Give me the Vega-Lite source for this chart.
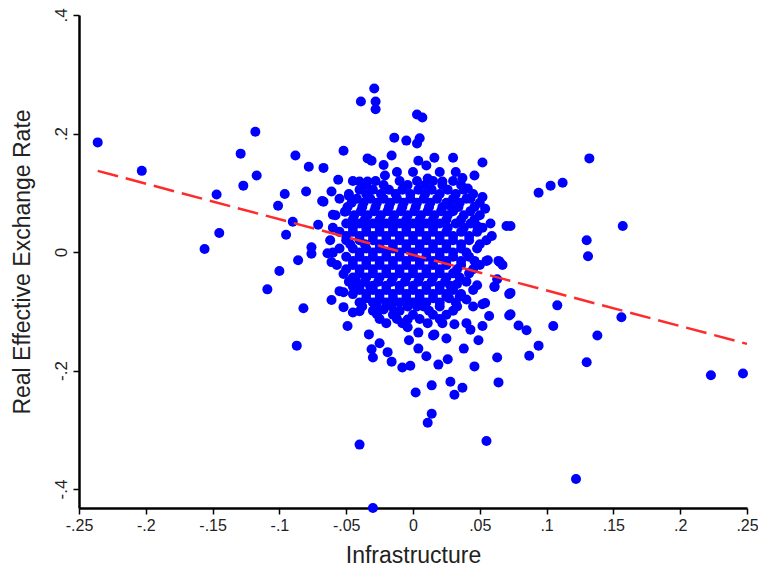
{
  "$schema": "https://vega.github.io/schema/vega-lite/v6.json",
  "width": 668,
  "height": 493,
  "autosize": {"type": "none"},
  "padding": {"left": 79, "top": 15, "right": 11, "bottom": 65},
  "background": "white",
  "config": {"view": {"stroke": null}, "font": "Liberation Sans"},
  "datasets": {
    "pts": [
      {"infra":-0.236,"rer":0.185},{"infra":-0.203,"rer":0.137},{"infra":-0.147,"rer":0.097},{"infra":-0.145,"rer":0.032},{"infra":-0.156,"rer":0.005},{"infra":-0.129,"rer":0.166},{"infra":-0.118,"rer":0.203},{"infra":-0.127,"rer":0.112},{"infra":-0.117,"rer":0.129},{"infra":-0.109,"rer":-0.063},{"infra":-0.100,"rer":-0.032},{"infra":-0.088,"rer":0.163},{"infra":-0.078,"rer":0.144},{"infra":-0.067,"rer":0.142},{"infra":-0.096,"rer":0.098},{"infra":-0.101,"rer":0.078},{"infra":-0.080,"rer":0.102},{"infra":-0.068,"rer":0.086},{"infra":-0.090,"rer":0.051},{"infra":-0.095,"rer":0.029},{"infra":-0.071,"rer":0.046},{"infra":-0.076,"rer":0.008},{"infra":-0.076,"rer":-0.003},{"infra":-0.086,"rer":-0.014},{"infra":-0.082,"rer":-0.095},{"infra":-0.087,"rer":-0.158},{"infra":-0.064,"rer":-0.002},{"infra":-0.061,"rer":-0.017},{"infra":-0.061,"rer":-0.081},{"infra":-0.052,"rer":-0.093},{"infra":-0.049,"rer":-0.125},{"infra":-0.055,"rer":-0.066},
      {"infra":-0.029,"rer":0.276},{"infra":-0.039,"rer":0.254},{"infra":-0.028,"rer":0.254},{"infra":-0.028,"rer":0.241},{"infra":0.003,"rer":0.232},{"infra":0.007,"rer":0.227},{"infra":-0.014,"rer":0.193},{"infra":-0.005,"rer":0.188},{"infra":0.005,"rer":0.192},{"infra":0.003,"rer":0.183},{"infra":-0.052,"rer":0.171},{"infra":-0.034,"rer":0.158},{"infra":-0.031,"rer":0.154},{"infra":-0.022,"rer":0.147},{"infra":-0.016,"rer":0.163},{"infra":-0.056,"rer":0.122},{"infra":-0.061,"rer":0.102},{"infra":-0.040,"rer":0.119},{"infra":-0.034,"rer":0.119},{"infra":-0.021,"rer":0.129},{"infra":-0.067,"rer":0.085},{"infra":-0.060,"rer":0.063},{"infra":-0.049,"rer":0.076},{"infra":-0.048,"rer":0.095},{"infra":-0.051,"rer":0.068},{"infra":0.030,"rer":0.159},{"infra":0.052,"rer":0.151},{"infra":0.016,"rer":0.159},{"infra":0.004,"rer":0.154},{"infra":0.010,"rer":0.146},{"infra":0.037,"rer":0.125},{"infra":0.046,"rer":0.129},{"infra":0.022,"rer":0.119},{"infra":0.011,"rer":0.124},{"infra":0.052,"rer":0.093},{"infra":0.054,"rer":0.073},{"infra":0.041,"rer":0.107},{"infra":0.043,"rer":0.090},{"infra":0.028,"rer":0.078},{"infra":0.070,"rer":0.044},{"infra":0.048,"rer":0.044},
      {"infra":0.132,"rer":0.158},{"infra":0.094,"rer":0.100},{"infra":0.103,"rer":0.112},{"infra":0.112,"rer":0.117},{"infra":0.073,"rer":0.044},{"infra":0.157,"rer":0.044},{"infra":0.059,"rer":0.027},{"infra":0.130,"rer":0.020},{"infra":0.131,"rer":-0.007},{"infra":0.055,"rer":-0.015},{"infra":0.064,"rer":-0.015},{"infra":0.067,"rer":-0.022},{"infra":0.063,"rer":-0.046},{"infra":0.061,"rer":-0.059},{"infra":0.073,"rer":-0.069},{"infra":0.108,"rer":-0.090},{"infra":0.054,"rer":-0.086},{"infra":0.057,"rer":-0.108},{"infra":0.073,"rer":-0.105},{"infra":0.052,"rer":-0.125},{"infra":0.079,"rer":-0.124},{"infra":0.085,"rer":-0.132},{"infra":0.105,"rer":-0.125},{"infra":0.156,"rer":-0.110},{"infra":0.138,"rer":-0.141},{"infra":0.094,"rer":-0.158},{"infra":0.087,"rer":-0.175},{"infra":0.063,"rer":-0.178},{"infra":0.130,"rer":-0.186},{"infra":0.064,"rer":-0.220},{"infra":0.223,"rer":-0.208},{"infra":0.247,"rer":-0.205},
      {"infra":-0.040,"rer":-0.325},{"infra":-0.030,"rer":-0.432},{"infra":0.055,"rer":-0.319},{"infra":0.122,"rer":-0.383},{"infra":0.014,"rer":-0.273},{"infra":0.011,"rer":-0.288},{"infra":0.002,"rer":-0.237},{"infra":0.014,"rer":-0.225},{"infra":0.028,"rer":-0.219},{"infra":0.031,"rer":-0.241},{"infra":0.037,"rer":-0.229},{"infra":0.046,"rer":-0.193},{"infra":0.038,"rer":-0.163},{"infra":0.025,"rer":-0.146},{"infra":0.016,"rer":-0.139},{"infra":0.026,"rer":-0.181},{"infra":0.019,"rer":-0.190},{"infra":0.010,"rer":-0.176},{"infra":0.004,"rer":-0.163},{"infra":-0.003,"rer":-0.149},{"infra":-0.008,"rer":-0.195},{"infra":-0.002,"rer":-0.192},{"infra":-0.016,"rer":-0.185},{"infra":-0.019,"rer":-0.169},{"infra":-0.030,"rer":-0.178},{"infra":-0.031,"rer":-0.164},{"infra":-0.025,"rer":-0.154},{"infra":-0.033,"rer":-0.139},{"infra":-0.045,"rer":-0.102},{"infra":-0.040,"rer":-0.100},{"infra":-0.027,"rer":-0.105},{"infra":-0.004,"rer":-0.127},{"infra":-0.004,"rer":-0.114},{"infra":0.004,"rer":-0.136},{"infra":0.011,"rer":-0.120},{"infra":0.015,"rer":-0.141},{"infra":0.031,"rer":-0.122},{"infra":0.043,"rer":-0.131},{"infra":0.049,"rer":-0.149},{"infra":0.072,"rer":-0.107},{"infra":0.072,"rer":-0.071},{"infra":0.061,"rer":-0.058},{"infra":0.048,"rer":-0.056},{"infra":0.033,"rer":-0.054},{"infra":0.025,"rer":-0.075},{"infra":0.035,"rer":-0.075},{"infra":0.040,"rer":-0.080},{"infra":0.052,"rer":-0.088},{"infra":0.065,"rer":-0.017},{"infra":0.056,"rer":-0.014},{"infra":-0.052,"rer":-0.068},{"infra":-0.045,"rer":-0.058},{"infra":-0.043,"rer":-0.046},{"infra":-0.052,"rer":-0.037},{"infra":-0.032,"rer":-0.058},{"infra":-0.022,"rer":-0.097},{"infra":-0.027,"rer":-0.085},{"infra":0.003,"rer":-0.092},
      {"infra":-0.012,"rer":0.135},{"infra":0.0,"rer":0.135},{"infra":0.02,"rer":0.135},{"infra":0.032,"rer":0.135},
      {"infra":-0.045,"rer":0.12},{"infra":-0.028,"rer":0.12},{"infra":-0.01,"rer":0.12},{"infra":0.003,"rer":0.12},{"infra":0.015,"rer":0.12},{"infra":0.03,"rer":0.12},
      {"infra":-0.04,"rer":0.105},{"infra":-0.03,"rer":0.105},{"infra":-0.018,"rer":0.105},{"infra":-0.008,"rer":0.105},{"infra":0.004,"rer":0.105},{"infra":0.014,"rer":0.105},{"infra":0.026,"rer":0.105},{"infra":0.038,"rer":0.105},
      {"infra":-0.055,"rer":0.09},{"infra":-0.042,"rer":0.09},{"infra":-0.032,"rer":0.09},{"infra":-0.022,"rer":0.09},{"infra":-0.012,"rer":0.09},{"infra":-0.002,"rer":0.09},{"infra":0.008,"rer":0.09},{"infra":0.018,"rer":0.09},{"infra":0.03,"rer":0.09},{"infra":0.04,"rer":0.09},
      {"infra":-0.038,"rer":0.076},{"infra":-0.028,"rer":0.076},{"infra":-0.018,"rer":0.076},{"infra":-0.008,"rer":0.076},{"infra":0.002,"rer":0.076},{"infra":0.012,"rer":0.076},{"infra":0.022,"rer":0.076},{"infra":0.034,"rer":0.076},{"infra":0.046,"rer":0.076},
      {"infra":-0.058,"rer":0.062},{"infra":-0.044,"rer":0.062},{"infra":-0.034,"rer":0.062},{"infra":-0.024,"rer":0.062},{"infra":-0.014,"rer":0.062},{"infra":-0.004,"rer":0.062},{"infra":0.006,"rer":0.062},{"infra":0.016,"rer":0.062},{"infra":0.026,"rer":0.062},{"infra":0.038,"rer":0.062},{"infra":0.05,"rer":0.062},
      {"infra":-0.05,"rer":0.048},{"infra":-0.04,"rer":0.048},{"infra":-0.03,"rer":0.048},{"infra":-0.02,"rer":0.048},{"infra":-0.01,"rer":0.048},{"infra":0.0,"rer":0.048},{"infra":0.01,"rer":0.048},{"infra":0.02,"rer":0.048},{"infra":0.032,"rer":0.048},{"infra":0.043,"rer":0.048},{"infra":0.058,"rer":0.048},
      {"infra":-0.055,"rer":0.034},{"infra":-0.045,"rer":0.034},{"infra":-0.035,"rer":0.034},{"infra":-0.025,"rer":0.034},{"infra":-0.015,"rer":0.034},{"infra":-0.005,"rer":0.034},{"infra":0.005,"rer":0.034},{"infra":0.015,"rer":0.034},{"infra":0.025,"rer":0.034},{"infra":0.036,"rer":0.034},{"infra":0.048,"rer":0.034},
      {"infra":-0.062,"rer":0.02},{"infra":-0.05,"rer":0.02},{"infra":-0.04,"rer":0.02},{"infra":-0.03,"rer":0.02},{"infra":-0.02,"rer":0.02},{"infra":-0.01,"rer":0.02},{"infra":0.0,"rer":0.02},{"infra":0.01,"rer":0.02},{"infra":0.02,"rer":0.02},{"infra":0.03,"rer":0.02},{"infra":0.042,"rer":0.02},{"infra":0.055,"rer":0.02},
      {"infra":-0.055,"rer":0.006},{"infra":-0.045,"rer":0.006},{"infra":-0.035,"rer":0.006},{"infra":-0.025,"rer":0.006},{"infra":-0.015,"rer":0.006},{"infra":-0.005,"rer":0.006},{"infra":0.005,"rer":0.006},{"infra":0.015,"rer":0.006},{"infra":0.025,"rer":0.006},{"infra":0.036,"rer":0.006},{"infra":0.048,"rer":0.006},
      {"infra":-0.05,"rer":-0.008},{"infra":-0.04,"rer":-0.008},{"infra":-0.03,"rer":-0.008},{"infra":-0.02,"rer":-0.008},{"infra":-0.01,"rer":-0.008},{"infra":0.0,"rer":-0.008},{"infra":0.01,"rer":-0.008},{"infra":0.02,"rer":-0.008},{"infra":0.03,"rer":-0.008},{"infra":0.042,"rer":-0.008},
      {"infra":-0.057,"rer":-0.022},{"infra":-0.045,"rer":-0.022},{"infra":-0.035,"rer":-0.022},{"infra":-0.025,"rer":-0.022},{"infra":-0.015,"rer":-0.022},{"infra":-0.005,"rer":-0.022},{"infra":0.005,"rer":-0.022},{"infra":0.015,"rer":-0.022},{"infra":0.025,"rer":-0.022},{"infra":0.036,"rer":-0.022},{"infra":0.05,"rer":-0.022},
      {"infra":-0.04,"rer":-0.036},{"infra":-0.03,"rer":-0.036},{"infra":-0.02,"rer":-0.036},{"infra":-0.01,"rer":-0.036},{"infra":0.0,"rer":-0.036},{"infra":0.01,"rer":-0.036},{"infra":0.02,"rer":-0.036},{"infra":0.03,"rer":-0.036},{"infra":0.042,"rer":-0.036},
      {"infra":-0.048,"rer":-0.05},{"infra":-0.036,"rer":-0.05},{"infra":-0.026,"rer":-0.05},{"infra":-0.016,"rer":-0.05},{"infra":-0.006,"rer":-0.05},{"infra":0.004,"rer":-0.05},{"infra":0.014,"rer":-0.05},{"infra":0.024,"rer":-0.05},{"infra":0.04,"rer":-0.05},
      {"infra":-0.04,"rer":-0.064},{"infra":-0.03,"rer":-0.064},{"infra":-0.02,"rer":-0.064},{"infra":-0.01,"rer":-0.064},{"infra":0.0,"rer":-0.064},{"infra":0.01,"rer":-0.064},{"infra":0.02,"rer":-0.064},{"infra":0.03,"rer":-0.064},{"infra":0.045,"rer":-0.064},
      {"infra":-0.035,"rer":-0.078},{"infra":-0.025,"rer":-0.078},{"infra":-0.015,"rer":-0.078},{"infra":-0.005,"rer":-0.078},{"infra":0.005,"rer":-0.078},{"infra":0.015,"rer":-0.078},{"infra":0.027,"rer":-0.078},
      {"infra":-0.038,"rer":-0.092},{"infra":-0.028,"rer":-0.092},{"infra":-0.016,"rer":-0.092},{"infra":-0.004,"rer":-0.092},{"infra":0.008,"rer":-0.092},{"infra":0.02,"rer":-0.092},{"infra":0.033,"rer":-0.092},{"infra":0.045,"rer":-0.092},
      {"infra":-0.015,"rer":-0.106},{"infra":0.0,"rer":-0.106},{"infra":0.015,"rer":-0.106},{"infra":0.025,"rer":-0.106},
      {"infra":-0.02,"rer":-0.12},{"infra":-0.008,"rer":-0.12},{"infra":0.022,"rer":-0.12},{"infra":0.04,"rer":-0.12},
      {"infra":-0.035,"rer":0.113},{"infra":-0.022,"rer":0.113},{"infra":-0.004,"rer":0.113},{"infra":0.009,"rer":0.113},{"infra":0.022,"rer":0.113},{"infra":0.036,"rer":0.113},
      {"infra":-0.048,"rer":0.098},{"infra":-0.035,"rer":0.098},{"infra":-0.024,"rer":0.098},{"infra":-0.013,"rer":0.098},{"infra":-0.002,"rer":0.098},{"infra":0.009,"rer":0.098},{"infra":0.02,"rer":0.098},{"infra":0.032,"rer":0.098},{"infra":0.045,"rer":0.098},
      {"infra":-0.046,"rer":0.083},{"infra":-0.037,"rer":0.083},{"infra":-0.027,"rer":0.083},{"infra":-0.017,"rer":0.083},{"infra":-0.007,"rer":0.083},{"infra":0.003,"rer":0.083},{"infra":0.013,"rer":0.083},{"infra":0.025,"rer":0.083},{"infra":0.035,"rer":0.083},{"infra":0.05,"rer":0.083},
      {"infra":-0.05,"rer":0.069},{"infra":-0.039,"rer":0.069},{"infra":-0.029,"rer":0.069},{"infra":-0.019,"rer":0.069},{"infra":-0.009,"rer":0.069},{"infra":0.001,"rer":0.069},{"infra":0.011,"rer":0.069},{"infra":0.021,"rer":0.069},{"infra":0.03,"rer":0.069},{"infra":0.043,"rer":0.069},
      {"infra":-0.045,"rer":0.055},{"infra":-0.036,"rer":0.055},{"infra":-0.025,"rer":0.055},{"infra":-0.015,"rer":0.055},{"infra":-0.005,"rer":0.055},{"infra":0.005,"rer":0.055},{"infra":0.015,"rer":0.055},{"infra":0.025,"rer":0.055},{"infra":0.036,"rer":0.055},{"infra":0.046,"rer":0.055},
      {"infra":-0.06,"rer":0.041},{"infra":-0.045,"rer":0.041},{"infra":-0.035,"rer":0.041},{"infra":-0.025,"rer":0.041},{"infra":-0.015,"rer":0.041},{"infra":-0.005,"rer":0.041},{"infra":0.005,"rer":0.041},{"infra":0.015,"rer":0.041},{"infra":0.026,"rer":0.041},{"infra":0.038,"rer":0.041},{"infra":0.052,"rer":0.041},
      {"infra":-0.05,"rer":0.027},{"infra":-0.04,"rer":0.027},{"infra":-0.03,"rer":0.027},{"infra":-0.02,"rer":0.027},{"infra":-0.01,"rer":0.027},{"infra":0.0,"rer":0.027},{"infra":0.01,"rer":0.027},{"infra":0.02,"rer":0.027},{"infra":0.03,"rer":0.027},{"infra":0.042,"rer":0.027},
      {"infra":-0.047,"rer":0.013},{"infra":-0.036,"rer":0.013},{"infra":-0.025,"rer":0.013},{"infra":-0.015,"rer":0.013},{"infra":-0.005,"rer":0.013},{"infra":0.005,"rer":0.013},{"infra":0.015,"rer":0.013},{"infra":0.025,"rer":0.013},{"infra":0.036,"rer":0.013},{"infra":0.05,"rer":0.013},
      {"infra":-0.06,"rer":-0.001},{"infra":-0.04,"rer":-0.001},{"infra":-0.03,"rer":-0.001},{"infra":-0.02,"rer":-0.001},{"infra":-0.01,"rer":-0.001},{"infra":0.0,"rer":-0.001},{"infra":0.01,"rer":-0.001},{"infra":0.02,"rer":-0.001},{"infra":0.03,"rer":-0.001},{"infra":0.04,"rer":-0.001},
      {"infra":-0.045,"rer":-0.015},{"infra":-0.035,"rer":-0.015},{"infra":-0.025,"rer":-0.015},{"infra":-0.015,"rer":-0.015},{"infra":-0.005,"rer":-0.015},{"infra":0.005,"rer":-0.015},{"infra":0.015,"rer":-0.015},{"infra":0.025,"rer":-0.015},{"infra":0.036,"rer":-0.015},{"infra":0.046,"rer":-0.015},
      {"infra":-0.05,"rer":-0.029},{"infra":-0.04,"rer":-0.029},{"infra":-0.03,"rer":-0.029},{"infra":-0.02,"rer":-0.029},{"infra":-0.01,"rer":-0.029},{"infra":0.0,"rer":-0.029},{"infra":0.01,"rer":-0.029},{"infra":0.02,"rer":-0.029},{"infra":0.033,"rer":-0.029},{"infra":0.045,"rer":-0.029},
      {"infra":-0.045,"rer":-0.043},{"infra":-0.035,"rer":-0.043},{"infra":-0.025,"rer":-0.043},{"infra":-0.015,"rer":-0.043},{"infra":-0.005,"rer":-0.043},{"infra":0.005,"rer":-0.043},{"infra":0.015,"rer":-0.043},{"infra":0.025,"rer":-0.043},{"infra":0.035,"rer":-0.043},
      {"infra":-0.04,"rer":-0.057},{"infra":-0.03,"rer":-0.057},{"infra":-0.02,"rer":-0.057},{"infra":-0.01,"rer":-0.057},{"infra":0.0,"rer":-0.057},{"infra":0.01,"rer":-0.057},{"infra":0.02,"rer":-0.057},{"infra":0.028,"rer":-0.057},
      {"infra":-0.045,"rer":-0.071},{"infra":-0.035,"rer":-0.071},{"infra":-0.025,"rer":-0.071},{"infra":-0.015,"rer":-0.071},{"infra":-0.005,"rer":-0.071},{"infra":0.005,"rer":-0.071},{"infra":0.015,"rer":-0.071},{"infra":0.025,"rer":-0.071},{"infra":0.036,"rer":-0.071},
      {"infra":-0.04,"rer":-0.085},{"infra":-0.03,"rer":-0.085},{"infra":-0.02,"rer":-0.085},{"infra":-0.01,"rer":-0.085},{"infra":0.0,"rer":-0.085},{"infra":0.01,"rer":-0.085},{"infra":0.02,"rer":-0.085},{"infra":0.032,"rer":-0.085},
      {"infra":-0.03,"rer":-0.099},{"infra":-0.01,"rer":-0.099},{"infra":0.012,"rer":-0.099},{"infra":0.03,"rer":-0.099},
      {"infra":-0.025,"rer":-0.113},{"infra":-0.012,"rer":-0.113},{"infra":0.005,"rer":-0.113},{"infra":0.02,"rer":-0.113}
    ],
    "fit": [
      {"infra": -0.236, "rer": 0.137},
      {"infra": 0.25, "rer": -0.155}
    ]
  },
  "encoding": {
    "x": {
      "field": "infra",
      "type": "quantitative",
      "scale": {"domain": [-0.25, 0.25], "nice": false, "zero": false},
      "axis": {
        "title": "Infrastructure",
        "values": [-0.25, -0.2, -0.15, -0.1, -0.05, 0, 0.05, 0.1, 0.15, 0.2, 0.25],
        "labelExpr": "replace(toString(datum.value), '0.', '.')",
        "grid": false,
        "domainColor": "#000000",
        "domainWidth": 2.5,
        "tickColor": "#000000",
        "tickWidth": 1.5,
        "tickSize": 6,
        "labelFontSize": 16,
        "labelColor": "#222222",
        "labelPadding": 3,
        "labelFlush": false,
        "labelOverlap": false,
        "titleFontSize": 23,
        "titleFontWeight": "normal",
        "titleColor": "#222222",
        "titlePadding": 11
      }
    },
    "y": {
      "field": "rer",
      "type": "quantitative",
      "scale": {"domain": [-0.432, 0.4], "nice": false, "zero": false},
      "axis": {
        "title": "Real Effective Exchange Rate",
        "values": [-0.4, -0.2, 0, 0.2, 0.4],
        "labelExpr": "replace(toString(datum.value), '0.', '.')",
        "grid": false,
        "domainColor": "#000000",
        "domainWidth": 2.5,
        "tickColor": "#000000",
        "tickWidth": 1.5,
        "tickSize": 6,
        "labelAngle": 270,
        "labelAlign": "center",
        "labelBaseline": "bottom",
        "labelFontSize": 17,
        "labelColor": "#222222",
        "labelPadding": 3,
        "labelFlush": false,
        "labelOverlap": false,
        "titleFontSize": 23,
        "titleFontWeight": "normal",
        "titleColor": "#222222",
        "titlePadding": 18
      }
    }
  },
  "layer": [
    {
      "data": {"name": "pts"},
      "mark": {"type": "point", "shape": "circle", "filled": true, "color": "#0000ff", "opacity": 1, "size": 100}
    },
    {
      "data": {"name": "fit"},
      "mark": {"type": "line", "color": "#ff2a2a", "strokeWidth": 2.5, "strokeDash": [21, 8]}
    }
  ]
}
